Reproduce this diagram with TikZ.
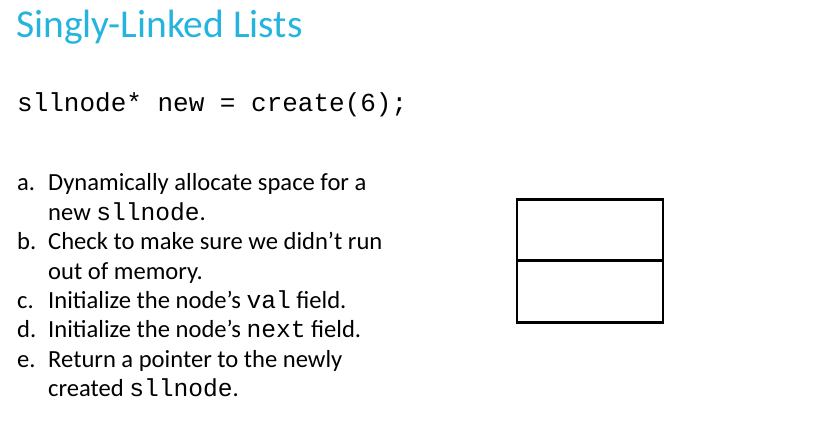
\documentclass[tikz,border=0pt]{standalone}
\usepackage{fontspec}
\setmainfont{Carlito}
\setmonofont{Liberation Mono}
\usepackage{tikz}
\usepackage{xcolor}

\definecolor{titleblue}{RGB}{38,180,222}
\newcommand{\code}[1]{{\ttfamily #1}}

\tikzset{
    title/.style={anchor=base west, inner sep=0pt, text=titleblue, font=\fontsize{39.5}{46}\selectfont},
    codeline/.style={anchor=base west, inner sep=0pt, font=\ttfamily\fontsize{26}{30}\selectfont},
    itemtext/.style={anchor=base west, inner sep=0pt, font=\fontsize{24.6}{29}\selectfont},
    cell/.style={draw, line width=2.6pt, minimum width=146pt, minimum height=61.5pt, inner sep=0pt, outer sep=0pt}
}

\begin{document}
\begin{tikzpicture}[x=1pt, y=-1pt]
    \useasboundingbox (0,0) rectangle (823,443);

    % Title and the call
    \node[title] (head) at (16,38) {Singly-Linked Lists};
    \node[codeline] (call) at (17,112) {sllnode* new = create(6);};

    % Steps a to e
    \node[itemtext] (la) at (17,191) {a.};
    \node[itemtext] (ta) at (48,191) {Dynamically allocate space for a};
    \node[itemtext] (ta2) at (48,220.4) {new \code{sllnode}.};
    \node[itemtext] (lb) at (17,249.8) {b.};
    \node[itemtext] (tb) at (48,249.8) {Check to make sure we didn’t run};
    \node[itemtext] (tb2) at (48,279.2) {out of memory.};
    \node[itemtext] (lc) at (17,308.6) {c.};
    \node[itemtext] (tc) at (48,308.6) {Initialize the node’s \code{val} field.};
    \node[itemtext] (ld) at (17,338) {d.};
    \node[itemtext] (td) at (48,338) {Initialize the node’s \code{next} field.};
    \node[itemtext] (le) at (17,367.4) {e.};
    \node[itemtext] (te) at (48,367.4) {Return a pointer to the newly};
    \node[itemtext] (te2) at (48,396.8) {created \code{sllnode}.};

    % The new node
    \node[cell] (valcell) at (590,230) {};
    \node[cell, anchor=north] (nextcell) at (valcell.south) {};

\end{tikzpicture}
\end{document}
